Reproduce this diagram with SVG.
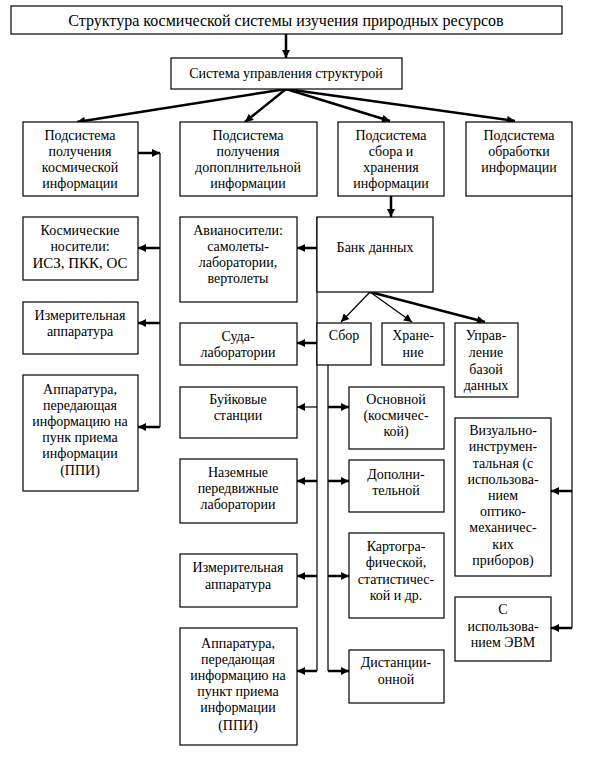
<svg xmlns="http://www.w3.org/2000/svg" width="605" height="764" viewBox="0 0 605 764">
<style>
.b{fill:#fff;stroke:#000;stroke-width:1.2}
text{font-family:"Liberation Serif","Times New Roman",serif;font-size:14px;fill:#000;text-anchor:middle}
.t{font-size:16px}
.c line,.c polyline{stroke:#000;fill:none}
.k{stroke-width:2.5}
.n{stroke-width:1.2}
</style>
<defs>
<marker id="a" viewBox="0 0 10 10" refX="10" refY="5" markerWidth="9" markerHeight="8" markerUnits="userSpaceOnUse" orient="auto"><path d="M0,0L10,5L0,10z" fill="#000"/></marker>
</defs>
<rect width="605" height="764" fill="#fff"/>
<g class="c">
<line class="k" x1="286" y1="34" x2="286" y2="58" marker-end="url(#a)"/>
<line class="k" x1="286" y1="89" x2="77" y2="122" marker-end="url(#a)"/>
<line class="k" x1="286" y1="89" x2="245" y2="122" marker-end="url(#a)"/>
<line class="k" x1="286" y1="89" x2="390" y2="121" marker-end="url(#a)"/>
<line class="k" x1="286" y1="89" x2="515" y2="121" marker-end="url(#a)"/>
<line class="k" x1="391" y1="196" x2="391" y2="217" marker-end="url(#a)"/>
<line class="k" x1="138" y1="153" x2="160" y2="153" marker-end="url(#a)"/>
<line class="n" x1="160" y1="153" x2="160" y2="427"/>
<line class="k" x1="160" y1="248" x2="138" y2="248" marker-end="url(#a)"/>
<line class="k" x1="160" y1="323" x2="138" y2="323" marker-end="url(#a)"/>
<line class="k" x1="160" y1="427" x2="138" y2="427" marker-end="url(#a)"/>
<line class="n" x1="317" y1="217" x2="317" y2="671"/>
<line class="k" x1="317" y1="248" x2="297" y2="248" marker-end="url(#a)"/>
<line class="k" x1="317" y1="343" x2="297" y2="343" marker-end="url(#a)"/>
<line class="n" x1="317" y1="407" x2="297" y2="407" marker-end="url(#a)"/>
<line class="k" x1="317" y1="481" x2="297" y2="481" marker-end="url(#a)"/>
<line class="k" x1="317" y1="576" x2="297" y2="576" marker-end="url(#a)"/>
<line class="k" x1="317" y1="671" x2="297" y2="671" marker-end="url(#a)"/>
<line class="n" x1="370" y1="292" x2="341" y2="322" marker-end="url(#a)"/>
<line class="n" x1="370" y1="292" x2="412" y2="322" marker-end="url(#a)"/>
<line class="k" x1="370" y1="292" x2="485" y2="322" marker-end="url(#a)"/>
<line class="n" x1="328" y1="365" x2="328" y2="671"/>
<line class="k" x1="328" y1="407" x2="349" y2="407" marker-end="url(#a)"/>
<line class="k" x1="328" y1="481" x2="349" y2="481" marker-end="url(#a)"/>
<line class="k" x1="328" y1="576" x2="349" y2="576" marker-end="url(#a)"/>
<line class="k" x1="328" y1="671" x2="349" y2="671" marker-end="url(#a)"/>
<line class="n" x1="572" y1="196" x2="572" y2="628"/>
<line class="k" x1="572" y1="491" x2="551" y2="491" marker-end="url(#a)"/>
<line class="k" x1="572" y1="628" x2="551" y2="628" marker-end="url(#a)"/>
</g>
<g id="n1"><rect class="b" x="11" y="6" width="551" height="28"/><text class="t" x="286" y="26">Структура космической системы изучения природных ресурсов</text></g>
<g id="n2"><rect class="b" x="171" y="58" width="231" height="31"/><text x="286" y="78">Система управления структурой</text></g>
<g id="n3"><rect class="b" x="23" y="122" width="115" height="74"/><text x="80" y="140">Подсистема</text><text x="80" y="156">получения</text><text x="80" y="172">космической</text><text x="80" y="188">информации</text></g>
<g id="n4"><rect class="b" x="180" y="122" width="137" height="74"/><text x="248" y="140">Подсистема</text><text x="248" y="156">получения</text><text x="248" y="172">допоплнительной</text><text x="248" y="188">информации</text></g>
<g id="n5"><rect class="b" x="338" y="122" width="106" height="74"/><text x="391" y="140">Подсистема</text><text x="391" y="156">сбора и</text><text x="391" y="172">хранения</text><text x="391" y="188">информации</text></g>
<g id="n6"><rect class="b" x="466" y="122" width="106" height="74"/><text x="519" y="140">Подсистема</text><text x="519" y="156">обработки</text><text x="519" y="172">информации</text></g>
<g id="n7"><rect class="b" x="23" y="217" width="115" height="63"/><text x="80" y="235">Космические</text><text x="80" y="251">носители:</text><text x="80" y="268" style="font-size:15px">ИСЗ, ПКК, ОС</text></g>
<g id="n8"><rect class="b" x="180" y="217" width="117" height="85"/><text x="238" y="235">Авианосители:</text><text x="238" y="251">самолеты-</text><text x="238" y="267">лаборатории,</text><text x="238" y="283">вертолеты</text></g>
<g id="n9"><rect class="b" x="317" y="217" width="116" height="75"/><text x="375" y="252">Банк данных</text></g>
<g id="n10"><rect class="b" x="23" y="302" width="115" height="52"/><text x="80" y="320">Измерительная</text><text x="80" y="336">аппаратура</text></g>
<g id="n11"><rect class="b" x="23" y="375" width="115" height="116"/><text x="80" y="394">Аппаратура,</text><text x="80" y="410">передающая</text><text x="80" y="426">информацию на</text><text x="80" y="442">пунк приема</text><text x="80" y="458">информации</text><text x="80" y="475">(ППИ)</text></g>
<g id="n12"><rect class="b" x="180" y="323" width="117" height="42"/><text x="238" y="341">Суда-</text><text x="238" y="357">лаборатории</text></g>
<g id="n13"><rect class="b" x="180" y="387" width="117" height="51"/><text x="238" y="404">Буйковые</text><text x="238" y="420">станции</text></g>
<g id="n14"><rect class="b" x="180" y="459" width="117" height="64"/><text x="238" y="477">Наземные</text><text x="238" y="493">передвижные</text><text x="238" y="509">лаборатории</text></g>
<g id="n15"><rect class="b" x="180" y="554" width="117" height="53"/><text x="238" y="572">Измерительная</text><text x="238" y="589">аппаратура</text></g>
<g id="n16"><rect class="b" x="180" y="628" width="117" height="117"/><text x="238" y="648">Аппаратура,</text><text x="238" y="664">передающая</text><text x="238" y="680">информацию на</text><text x="238" y="696">пункт приема</text><text x="238" y="712">информации</text><text x="238" y="730">(ППИ)</text></g>
<g id="n17"><rect class="b" x="317" y="323" width="54" height="42"/><text x="344" y="340">Сбор</text></g>
<g id="n18"><rect class="b" x="382" y="323" width="62" height="42"/><text x="413" y="340">Хране-</text><text x="413" y="357">ние</text></g>
<g id="n19"><rect class="b" x="455" y="323" width="63" height="74"/><text x="486" y="340">Управ-</text><text x="486" y="357">ление</text><text x="486" y="374">базой</text><text x="486" y="390">данных</text></g>
<g id="n20"><rect class="b" x="349" y="387" width="95" height="62"/><text x="396" y="404">Основной</text><text x="396" y="420">(космичес-</text><text x="396" y="436">кой)</text></g>
<g id="n21"><rect class="b" x="349" y="460" width="95" height="52"/><text x="396" y="479">Дополни-</text><text x="396" y="495">тельной</text></g>
<g id="n22"><rect class="b" x="349" y="533" width="95" height="85"/><text x="396" y="551">Картогра-</text><text x="396" y="567">фической,</text><text x="396" y="584">статистичес-</text><text x="396" y="600">кой и др.</text></g>
<g id="n23"><rect class="b" x="349" y="650" width="95" height="53"/><text x="396" y="667">Дистанции-</text><text x="396" y="684">онной</text></g>
<g id="n24"><rect class="b" x="455" y="418" width="96" height="158"/><text x="503" y="435">Визуально-</text><text x="503" y="451">инструмен-</text><text x="503" y="468">тальная (с</text><text x="503" y="484">использова-</text><text x="503" y="500">нием</text><text x="503" y="516">оптико-</text><text x="503" y="532">механичес-</text><text x="503" y="549">ких</text><text x="503" y="565">приборов)</text></g>
<g id="n25"><rect class="b" x="455" y="597" width="96" height="64"/><text x="503" y="614">С</text><text x="503" y="631">использова-</text><text x="503" y="647">нием ЭВМ</text></g>
</svg>
